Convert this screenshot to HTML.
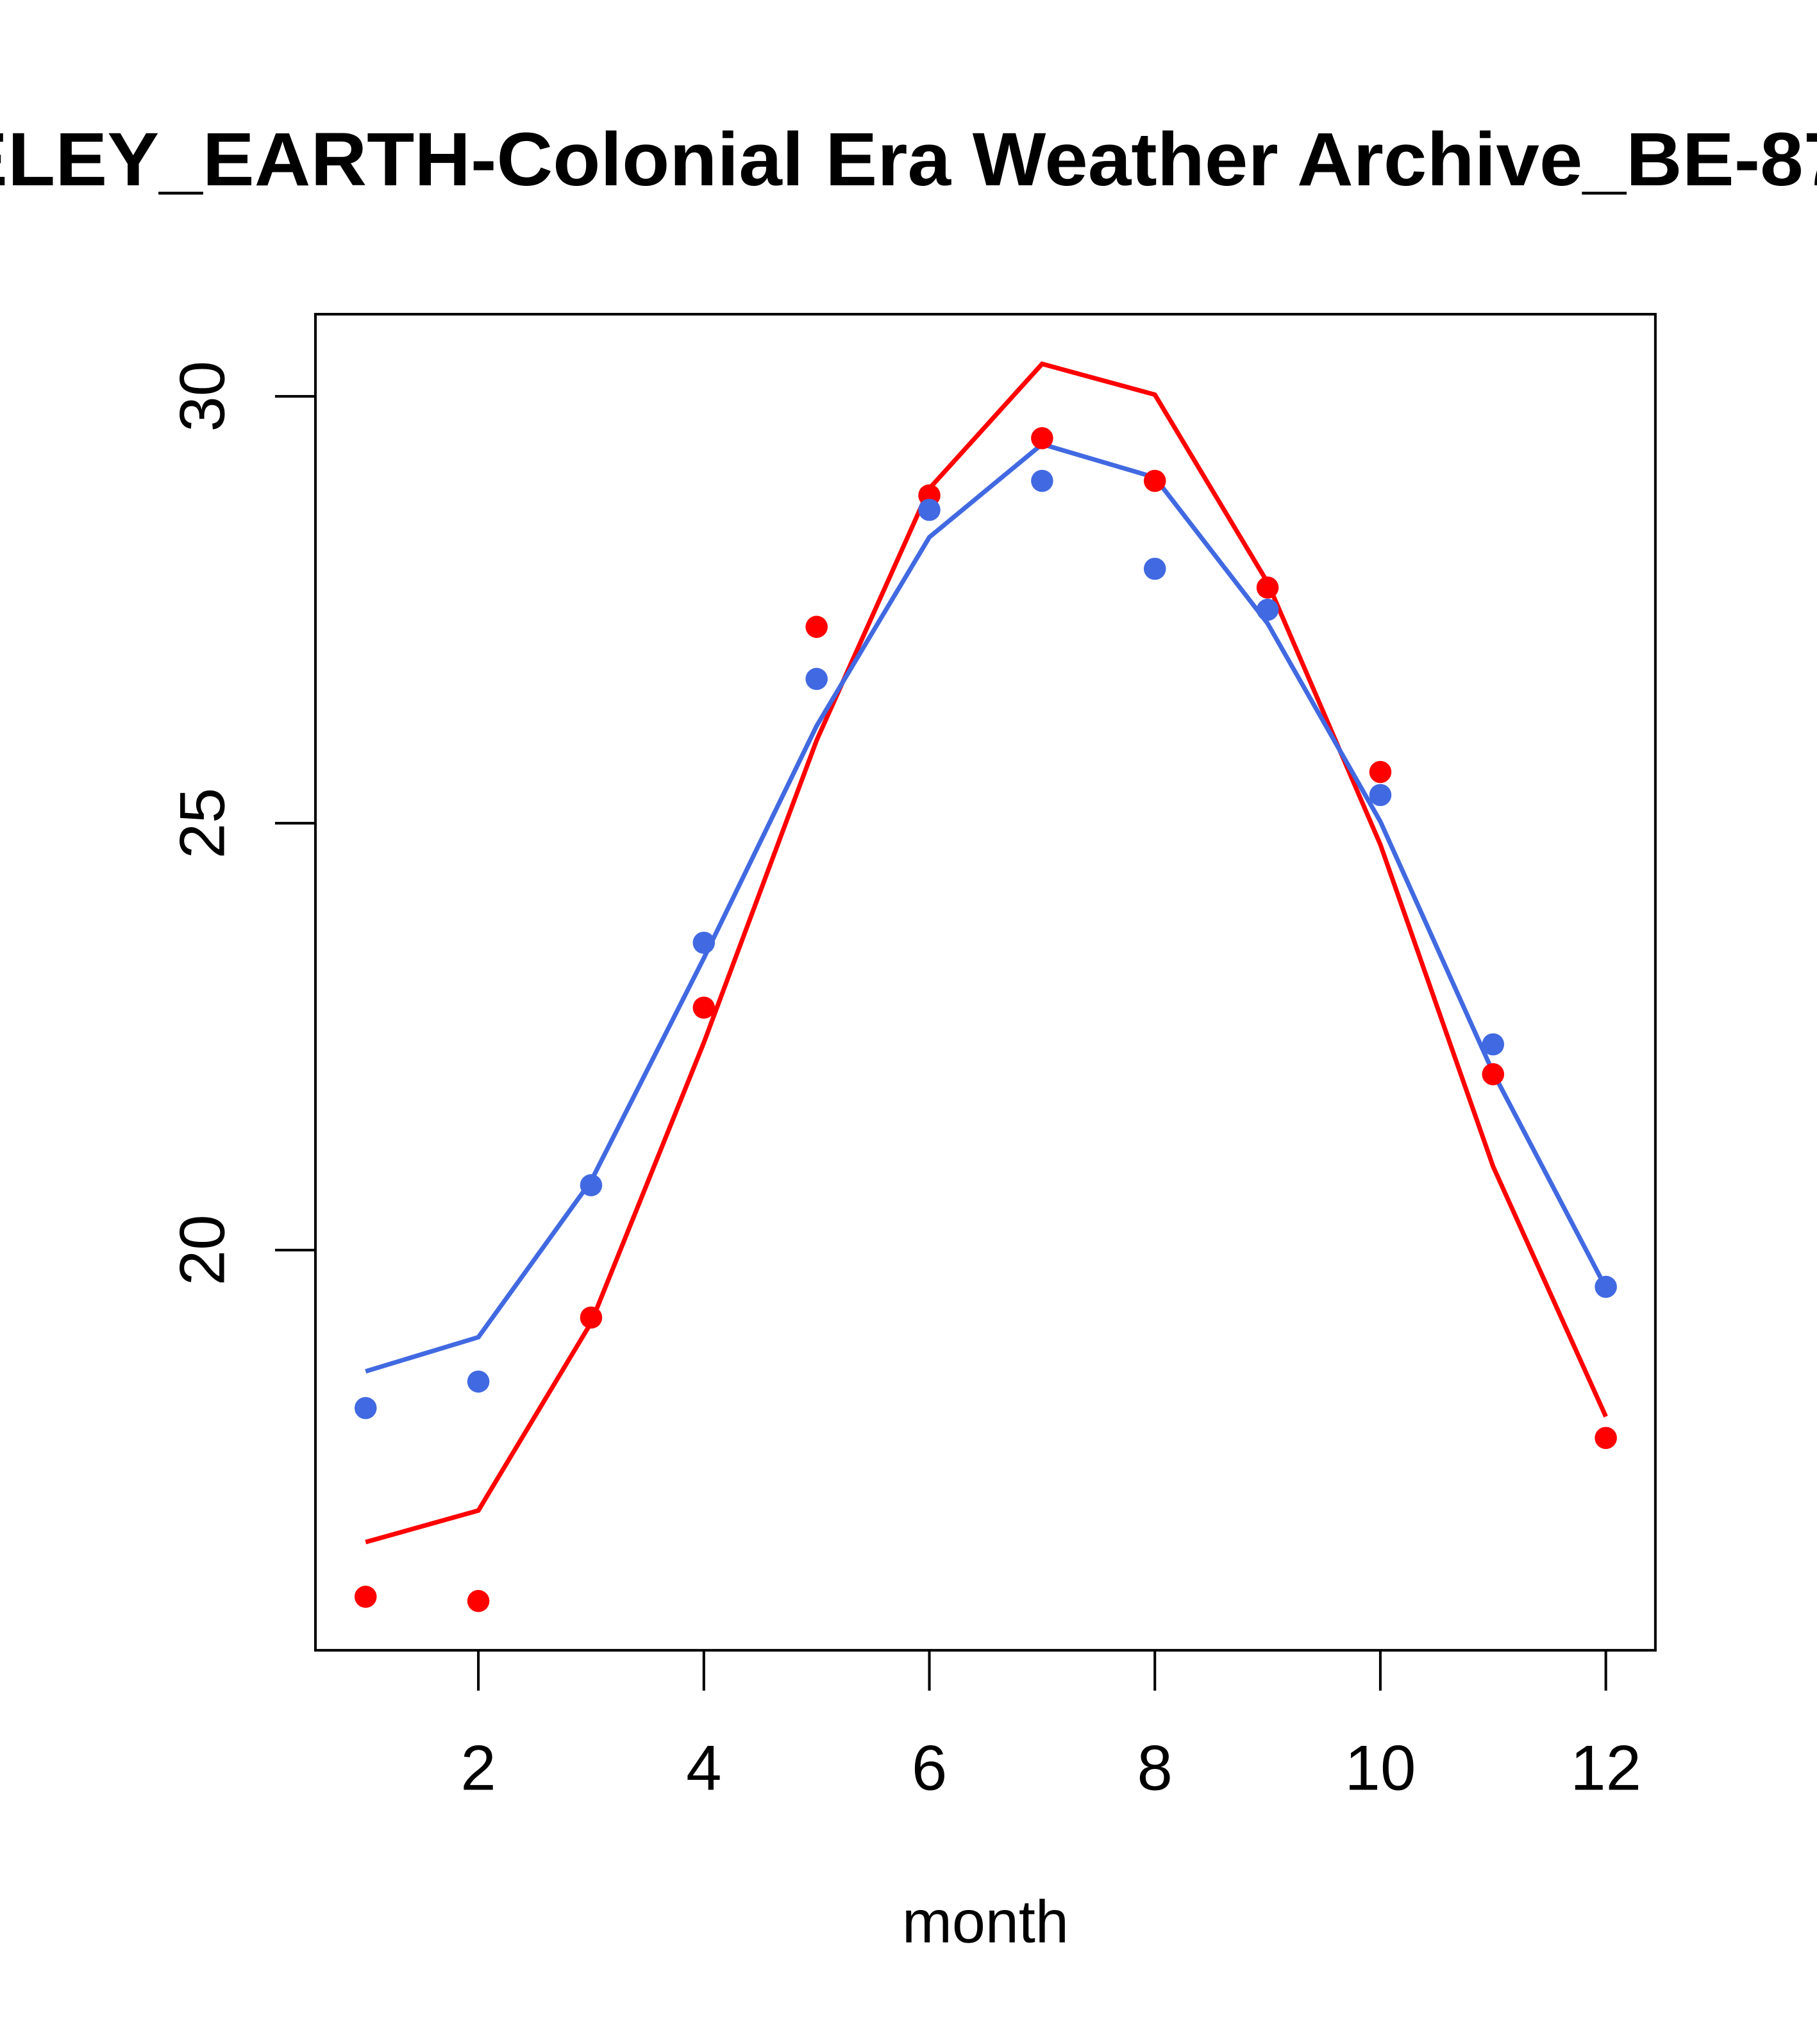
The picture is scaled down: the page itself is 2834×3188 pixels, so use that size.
<!DOCTYPE html>
<html><head><meta charset="utf-8"><style>html,body{margin:0;padding:0;background:#fff;overflow:hidden}svg{display:block}</style></head>
<body>
<svg id="chart" width="2834" height="3188" viewBox="0 0 1394 1568" xmlns="http://www.w3.org/2000/svg" font-family="Liberation Sans, sans-serif">
<rect width="1394" height="1568" fill="#fff"/>
<text x="0" y="142" text-anchor="middle" font-size="58" font-weight="bold" transform="translate(640,0) scale(1.03,1)">BERKELEY_EARTH-Colonial Era Weather Archive_BE-8765</text>
<rect x="242" y="241" width="1028" height="1025" fill="none" stroke="#000" stroke-width="2"/>
<g id="xaxis"></g>
<g id="yaxis"></g>
<text x="756" y="1490" text-anchor="middle" font-size="46">month</text>
<g id="series"></g>
</svg>
<script>
const months = [1,2,3,4,5,6,7,8,9,10,11,12];
const redPoints = [15.94,15.89,19.21,22.84,27.30,28.84,29.51,29.01,27.76,25.60,22.06,17.80];
const bluePoints = [18.15,18.46,20.76,23.60,26.69,28.67,29.01,27.98,27.50,25.33,22.41,19.57];
const redLine = [16.58,16.95,19.15,22.43,25.97,28.92,30.38,30.02,27.82,24.75,20.98,18.05];
const blueLine = [18.58,18.98,20.81,23.42,26.14,28.35,29.44,29.05,27.34,25.02,22.08,19.56];
const xTicks = [2,4,6,8,10,12];
const yTicks = [20,25,30];

const NS = 'http://www.w3.org/2000/svg';
function xs(m){ return 280.5 + (m-1)*86.5; }
function ys(v){ return 959 - (v-20)*65.5; }
function mk(tag, attrs, parent){
  const e = document.createElementNS(NS, tag);
  for (const k in attrs) e.setAttribute(k, attrs[k]);
  parent.appendChild(e); return e;
}
const xa = document.getElementById('xaxis');
xTicks.forEach(t => {
  const l = mk('line', {x1:xs(t), x2:xs(t), y1:1266, y2:1297, stroke:'#000', 'stroke-width':2}, xa);
  
  
  const tx = mk('text', {x:xs(t), y:1373, 'text-anchor':'middle', 'font-size':49}, xa);
  
  
  tx.textContent = t;
});
const ya = document.getElementById('yaxis');
yTicks.forEach(t => {
  const l = mk('line', {x1:211, x2:242, y1:ys(t), y2:ys(t), stroke:'#000', 'stroke-width':2}, ya);
  
  
  const tx = mk('text', {x:0, y:0, 'text-anchor':'middle', 'font-size':49, transform:'translate(172,'+ys(t)+') rotate(-90)'}, ya);
  
  
  tx.textContent = t;
});
const sg = document.getElementById('series');
function line(vals, color, name){
  const p = mk('polyline', {points: vals.map((v,i)=>xs(months[i])+','+ys(v)).join(' '), fill:'none', stroke:color, 'stroke-width':3.5}, sg);
  
  
}
function pts(vals, color, name){
  vals.forEach((v,i) => {
    const c = mk('circle', {cx:xs(months[i]), cy:ys(v), r:8.5, fill:color}, sg);
    
    
  });
}
line(redLine, '#ff0000', 'red-line');
line(blueLine, '#4169e1', 'blue-line');
pts(redPoints, '#ff0000', 'red-point');
pts(bluePoints, '#4169e1', 'blue-point');
</script>
</body></html>
